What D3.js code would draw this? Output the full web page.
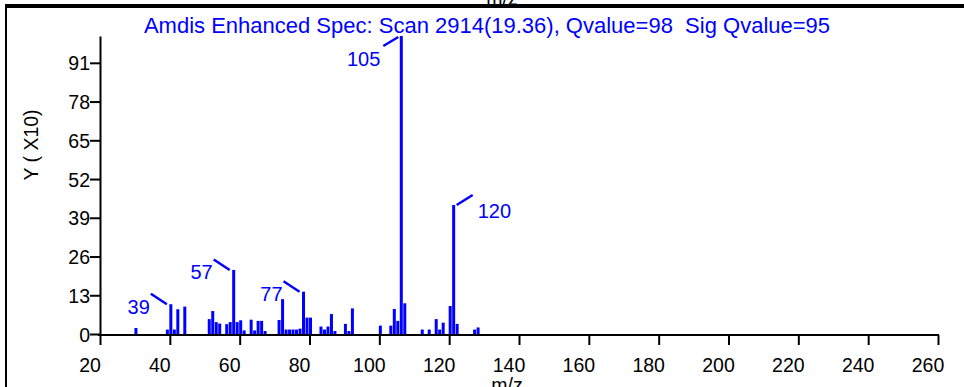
<!DOCTYPE html>
<html>
<head>
<meta charset="utf-8">
<script src="https://cdn.jsdelivr.net/npm/d3@7"></script>
<style>
  body { margin: 0; background: #fff; }
  svg { display: block; }
  text { font-family: Arial, "Liberation Sans", sans-serif; }
</style>
</head>
<body>
<svg></svg>
<script>
const width = 964,
  height = 387

const title = "Amdis Enhanced Spec: Scan 2914(19.36), Qvalue=98  Sig Qvalue=95"
const xTicks = [20, 40, 60, 80, 100, 120, 140, 160, 180, 200, 220, 240, 260]
const yTicks = [0, 13, 26, 39, 52, 65, 78, 91]

// peaks (m/z, relative intensity 0-100)
const mz = [29, 38, 39, 40, 41, 43, 50, 51, 52, 53, 55, 56, 57, 58, 59, 60,
  62, 63, 64, 65, 66, 70, 71, 72, 73, 74, 75, 76, 77, 78, 79, 82, 83, 84, 85, 86,
  89, 90, 91, 99, 102, 103, 104, 105, 106, 111, 113, 115, 116, 117, 119, 120, 121,
  126, 127]
const intensity = [2, 1.5, 10, 1.5, 8.3, 9.2, 5, 7.7, 4, 3.5, 3.3, 4, 21.5, 4, 4.6, 1.2,
  4.8, 1.2, 4.4, 4.4, 1, 4.7, 11.7, 1.5, 1.5, 1.5, 1.5, 1.8, 14.2, 5.5, 5.5, 2.5, 1.5, 2.5, 6.7, 1,
  3.4, 1, 8.6, 2.8, 2.8, 8.4, 4.4, 100, 10.3, 1.5, 1.5, 5, 1.5, 3.8, 9.4, 43.3, 3.4,
  1.5, 2.2]

const labelMz = [39, 57, 77, 105, 120]
const labelSide = ["left", "left", "left", "below", "right"]

const blue = "#0000ff"
const peakShift = 4.5 // spectrum is drawn a little right of the tick marks

const svg = d3.select("svg").attr("width", width).attr("height", height)
svg.append("rect").attr("width", width).attr("height", height).attr("fill", "#fff")

const x = d3.scaleLinear().domain([20, 260]).range([100, 938])
const y = d3.scaleLinear().domain([0, 100]).range([334, 36])
const px = m => x(m) + peakShift

// frame left over from the plot above
svg.append("text")
  .attr("x", 502).attr("y", 5)
  .attr("text-anchor", "middle")
  .style("font-size", "19.5px")
  .text("m/z")
svg.append("rect").attr("x", 5).attr("y", 4).attr("width", width - 5).attr("height", 4).attr("fill", "#000")
svg.append("rect").attr("x", 5).attr("y", 4).attr("width", 2).attr("height", height - 4).attr("fill", "#000")

svg.append("text")
  .attr("x", 487).attr("y", 33)
  .attr("text-anchor", "middle")
  .attr("fill", blue)
  .style("font-size", "22px")
  .style("white-space", "pre")
  .text(title)

// axes
const xAxis = svg.append("g")
  .attr("transform", "translate(0,335)")
  .call(d3.axisBottom(x).tickValues(xTicks).tickSize(10).tickSizeOuter(0))
xAxis.select(".domain").attr("d", "M98,0H939").attr("stroke-width", 2)
xAxis.selectAll(".tick line").attr("stroke-width", 2)
xAxis.selectAll(".tick text")
  .attr("y", 37).attr("dy", 0).attr("dx", -10.5)
  .attr("fill", "#000")
  .style("font-size", "19.5px")
  .style("font-family", "Arial, 'Liberation Sans', sans-serif")

const yAxis = svg.append("g")
  .attr("transform", "translate(100,0)")
  .call(d3.axisLeft(y).tickValues(yTicks).tickSize(10).tickSizeOuter(0))
yAxis.select(".domain").attr("stroke-width", 2)
yAxis.selectAll(".tick line").attr("stroke-width", 2)
yAxis.selectAll(".tick text")
  .attr("x", -10).attr("dy", "0.36em")
  .attr("fill", "#000")
  .style("font-size", "19.5px")
  .style("font-family", "Arial, 'Liberation Sans', sans-serif")

svg.append("text")
  .attr("transform", "translate(38,145) rotate(-90)")
  .attr("text-anchor", "middle")
  .style("font-size", "19.5px")
  .style("white-space", "pre")
  .text("Y ( X10)")

svg.append("text")
  .attr("x", 507).attr("y", 392)
  .attr("text-anchor", "middle")
  .style("font-size", "19.5px")
  .text("m/z")

// spectrum
const peaks = mz.map((m, i) => ({ mz: m, v: intensity[i] }))
svg.append("g")
  .selectAll("rect")
  .data(peaks)
  .join("rect")
  .attr("x", d => px(d.mz) - 1.5)
  .attr("width", 3)
  .attr("y", d => y(d.v))
  .attr("height", d => y(0) - y(d.v))
  .attr("fill", blue)

// peak labels with leader lines
const labels = labelMz.map((m, i) => {
  const p = peaks.find(d => d.mz === m)
  const cx = px(m),
    cy = y(p.v)
  const side = labelSide[i]
  if (side === "left")
    return { m, line: [cx - 20, cy - 10.5, cx - 4, cy], tx: cx - 21, ty: cy + 9.5, anchor: "end" }
  if (side === "below")
    return { m, line: [cx - 18, cy + 10, cx - 3, cy + 1], tx: cx - 21, ty: cy + 30, anchor: "end" }
  return { m, line: [cx + 3, cy, cx + 19, cy - 10], tx: cx + 24, ty: cy + 13, anchor: "start" }
})

const lg = svg.append("g")
lg.selectAll("line")
  .data(labels)
  .join("line")
  .attr("x1", d => d.line[0]).attr("y1", d => d.line[1])
  .attr("x2", d => d.line[2]).attr("y2", d => d.line[3])
  .attr("stroke", blue)
  .attr("stroke-width", 2.5)
lg.selectAll("text")
  .data(labels)
  .join("text")
  .attr("x", d => d.tx).attr("y", d => d.ty)
  .attr("text-anchor", d => d.anchor)
  .attr("fill", blue)
  .style("font-size", "20px")
  .text(d => d.m)
</script>
</body>
</html>
